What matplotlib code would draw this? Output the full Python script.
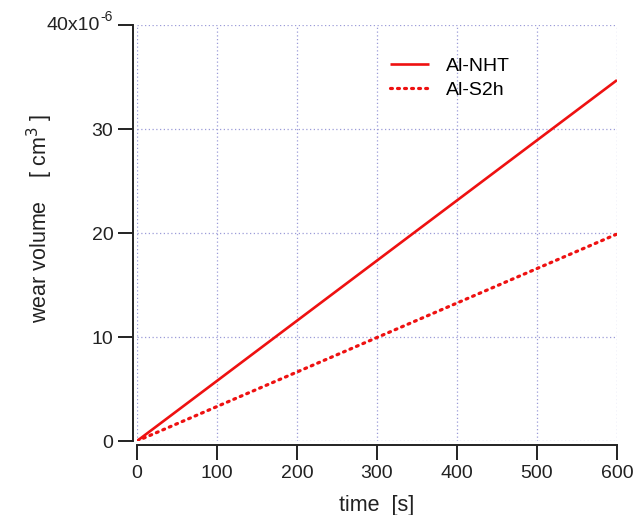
import matplotlib
matplotlib.use("Agg")
import matplotlib.pyplot as plt
from matplotlib.ticker import FuncFormatter

plt.rcParams['font.family'] = ['Liberation Sans', 'DejaVu Sans']

# data
time_s = [0, 600]
nht = [0.0, 34.7e-6]
s2h = [0.0, 19.9e-6]
names = ["Al-NHT", "Al-S2h"]

fig = plt.figure(figsize=(6.33, 5.15), dpi=100)
ax = fig.add_axes([137/633, 74/515, 480/633, 416/515])

ax.plot(time_s, nht, color='#ee1111', lw=1.9, label=names[0], solid_capstyle='butt')
ax.plot(time_s, s2h, color='#ee1111', lw=2.3, ls=(0, (0.6, 1.6)), label=names[1],
        dash_capstyle='round')

ax.set_xlim(0, 600)
ax.set_ylim(0, 40e-6)
ax.set_xticks(range(0, 601, 100))
ax.set_yticks([0, 10e-6, 20e-6, 30e-6, 40e-6])

def yfmt(v, pos):
    n = int(round(v * 1e6))
    if n == 40:
        return ""
    return str(n)

ax.yaxis.set_major_formatter(FuncFormatter(yfmt))
# top tick label with its exponent, written with a plain hyphen
ax.text(-0.077, 1.0, "40x10", transform=ax.transAxes, fontsize=14,
        color='#222222', ha='right', va='center')
ax.text(-0.076, 1.02, "-6", transform=ax.transAxes, fontsize=10,
        color='#222222', ha='left', va='center')

for s in ['top', 'right']:
    ax.spines[s].set_visible(False)
for s in ['left', 'bottom']:
    ax.spines[s].set_position(('outward', 3))
    ax.spines[s].set_linewidth(1.4)
    ax.spines[s].set_color('#222222')

ax.tick_params(direction='out', length=11, width=1.4, color='#222222',
               labelsize=14, pad=3, labelcolor='#222222')
ax.grid(True, color='#9c9cd8', ls=(0, (1, 2)), lw=0.9)

ax.set_xlabel("time  [s]", fontsize=15.5, color='#222222', labelpad=10)
ax.set_ylabel("wear volume    [ cm$^3$ ]", fontsize=15.5, color='#222222')
ax.yaxis.set_label_coords(-0.17, 0.535)

ax.legend(loc='upper left', bbox_to_anchor=(0.49, 0.965), frameon=False, fontsize=14,
          handlelength=2.0, handletextpad=0.9, labelspacing=0.35)

fig.savefig("out.png", dpi=100)
